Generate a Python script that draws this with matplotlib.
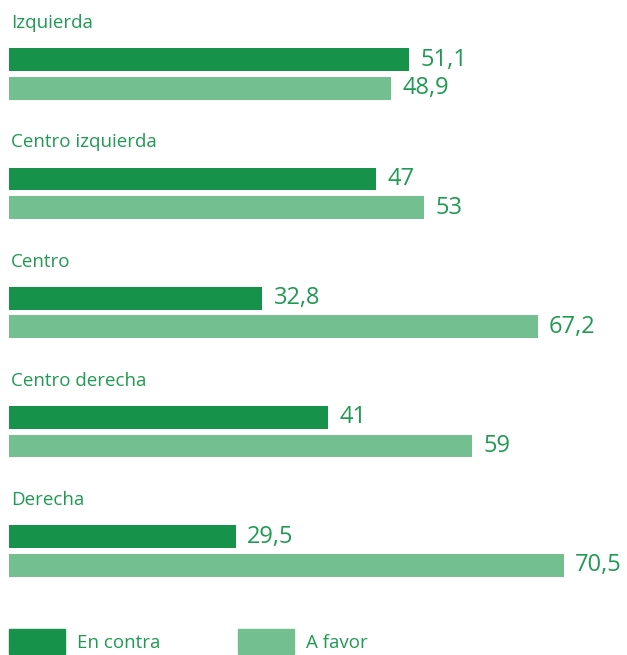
import matplotlib.pyplot as plt
from matplotlib.patches import Patch

categorias = ["Izquierda", "Centro izquierda", "Centro", "Centro derecha", "Derecha"]
en_contra = [51.1, 47, 32.8, 41, 29.5]
a_favor = [48.9, 53, 67.2, 59, 70.5]
series = ["En contra", "A favor"]

c_oscuro = "#17924a"
c_claro = "#74bf8f"
c_texto = "#1f9a52"

plt.rcParams['font.family'] = ['Open Sans', 'DejaVu Sans']

fig = plt.figure(figsize=(6.27, 6.55), dpi=100)
# axes in pixel-like units: y goes down like the picture
ax = fig.add_axes([9/627, 0, 618/627, 1])
ax.set_xlim(1.125, 1.125 + 618/8)
ax.set_ylim(655, 0)
ax.axis('off')

alto = 22.7
paso = 119.25
y0 = 59.7

def fmt(v):
    return ("%g" % v).replace(".", ",")

for i, cat in enumerate(categorias):
    yc = y0 + i*paso
    yf = yc + 28.6
    ax.barh(yc, en_contra[i], height=alto, color=c_oscuro)
    ax.barh(yf, a_favor[i], height=alto, color=c_claro)
    ax.text(en_contra[i] + 1.4, yc, fmt(en_contra[i]), va='center', ha='left',
            fontsize=17, color=c_texto)
    ax.text(a_favor[i] + 1.4, yf, fmt(a_favor[i]), va='center', ha='left',
            fontsize=17, color=c_texto)
    ax.text(1.35, yc - 31.5, cat, va='baseline', ha='left',
            fontsize=13.5, color=c_texto)

handles = [Patch(color=c_oscuro), Patch(color=c_claro)]
leg = fig.legend(handles, series, loc='upper left', bbox_to_anchor=(9/627, 1 - 629/655),
                 ncol=2, frameon=False, fontsize=13.5, handlelength=3.0,
                 handleheight=1.7, handletextpad=0.64, columnspacing=4.1,
                 borderaxespad=0, borderpad=0)
for t in leg.get_texts():
    t.set_color(c_texto)

fig.savefig("out.png", dpi=100)
